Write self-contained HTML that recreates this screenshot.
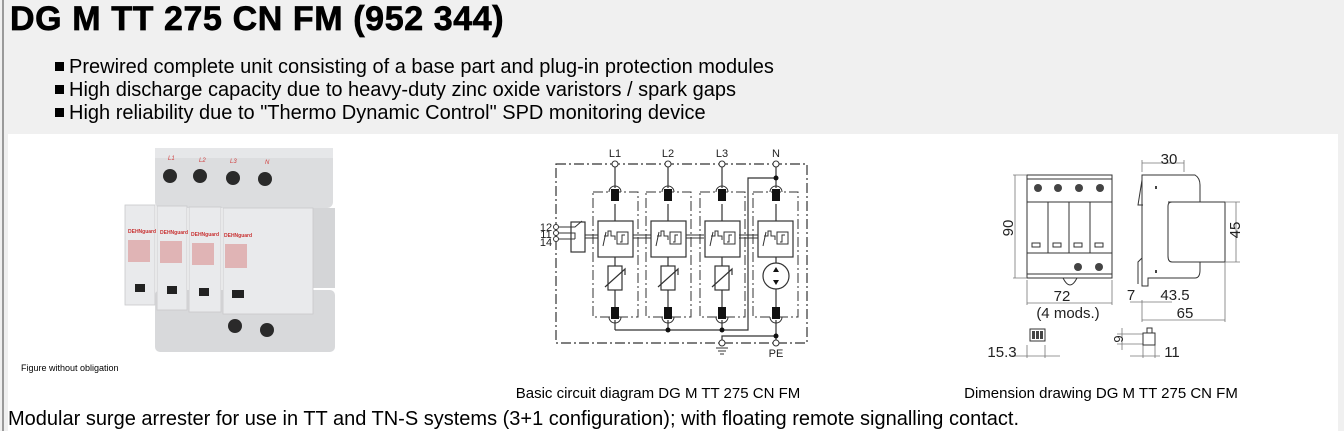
<!DOCTYPE html>
<html><head><meta charset="utf-8"><style>
body{margin:0;width:1344px;height:431px;background:#f0f0f0;position:relative;overflow:hidden;font-family:"Liberation Sans",Arial,sans-serif;}
.abs{position:absolute;white-space:nowrap;}
#lb{position:absolute;left:2px;top:0;width:2px;height:431px;background:#9a9a9a;}
#panel{position:absolute;left:8px;top:134px;width:1330px;height:297px;background:#fff;}
h1{position:absolute;left:10px;top:0px;margin:0;font-size:34px;font-weight:bold;letter-spacing:0.6px;-webkit-text-stroke:0.7px #000;}
.b{font-size:20px;color:#000;left:55px;}
.b:before{content:"";display:inline-block;width:9px;height:9px;background:#000;margin-right:5px;vertical-align:2px;}
</style></head><body>
<div id="lb"></div>
<div id="panel"></div>
<h1>DG M TT 275 CN FM (952 344)</h1>
<div class="abs b" style="top:56px">Prewired complete unit consisting of a base part and plug-in protection modules</div>
<div class="abs b" style="top:79px">High discharge capacity due to heavy-duty zinc oxide varistors / spark gaps</div>
<div class="abs b" style="top:102px">High reliability due to "Thermo Dynamic Control" SPD monitoring device</div>

<svg class="abs" style="left:0;top:0" width="1344" height="431" font-family="Liberation Sans,Arial,sans-serif">
<!-- product photo -->
<g>
<rect x="155" y="150" width="178" height="58" rx="6" fill="#dcdddf"/>
<rect x="155" y="148" width="178" height="10" fill="#e6e7e9"/>
<g fill="#2a2a2a"><circle cx="170" cy="176" r="7"/><circle cx="200" cy="176" r="7"/><circle cx="233" cy="178" r="7"/><circle cx="265" cy="179" r="7"/></g>
<g fill="#d04040" font-size="6" font-style="italic"><text x="168" y="160">L1</text><text x="199" y="162">L2</text><text x="230" y="163">L3</text><text x="265" y="164">N</text></g>
<rect x="310" y="208" width="25" height="80" fill="#d4d5d7"/>
<rect x="155" y="290" width="180" height="62" rx="5" fill="#d8d9db"/>
<g fill="#2a2a2a"><circle cx="235" cy="326" r="7"/><circle cx="267" cy="330" r="7"/></g>
<g fill="#e9eaec" stroke="#c8c9cb" stroke-width="0.8">
<rect x="125" y="205" width="30" height="100"/><rect x="157" y="206" width="30" height="104"/><rect x="189" y="207" width="32" height="105"/><rect x="223" y="208" width="90" height="106"/>
</g>
<g fill="#c83030" font-size="5" font-weight="bold"><text x="128" y="233">DEHNguard</text><text x="160" y="234">DEHNguard</text><text x="191" y="236">DEHNguard</text><text x="224" y="237">DEHNguard</text></g>
<g fill="#d05050"><rect x="128" y="240" width="22" height="22" opacity="0.35"/><rect x="160" y="241" width="22" height="22" opacity="0.35"/><rect x="192" y="243" width="22" height="22" opacity="0.35"/><rect x="225" y="244" width="22" height="24" opacity="0.35"/></g>
<g fill="#222"><rect x="135" y="284" width="10" height="8"/><rect x="167" y="286" width="10" height="8"/><rect x="199" y="288" width="10" height="8"/><rect x="232" y="290" width="12" height="8"/></g>
<text x="21" y="371" font-size="9">Figure without obligation</text>
</g>

<!-- circuit diagram -->
<g stroke="#333" fill="none" stroke-width="1.2">
<rect x="556" y="164" width="251" height="179" stroke-dasharray="10,3,2,3"/>
<g id="m">
<rect x="593" y="192" width="45" height="125" stroke-dasharray="10,3,2,3" stroke-width="1"/>
<path d="M615 164V188M615 204V221M615 257V266M615 290V308M615 320V330"/>
<rect x="598" y="221" width="35" height="36"/>
<rect x="608" y="266" width="14" height="24"/>
<path d="M605 287L625 269L625 275"/>
<path d="M603 246L606 232M604 236H608V231H611V236H615V240" stroke-width="1"/>
<rect x="617" y="232" width="11" height="12" stroke-width="1"/>
<path d="M620 242H622V235H625" stroke-width="1"/>
<path d="M609 192A6 6 0 0 1 621 192M609 317A6 6 0 0 0 621 317" stroke-width="1"/>
</g>
<use href="#m" x="53"/><use href="#m" x="107"/>
<rect x="753" y="192" width="45" height="125" stroke-dasharray="10,3,2,3" stroke-width="1"/>
<path d="M776 164V188M776 204V221M776 257V263M776 289V308M776 320V343"/>
<path d="M770 192A6 6 0 0 1 782 192M770 317A6 6 0 0 0 782 317" stroke-width="1"/>
<rect x="758" y="221" width="35" height="36"/>
<circle cx="776" cy="276" r="13"/>
<path d="M763 246L766 232M764 236H768V231H771V236H775V240" stroke-width="1"/>
<rect x="777" y="232" width="11" height="12" stroke-width="1"/>
<path d="M780 242H782V235H785" stroke-width="1"/>
<path d="M615 330H748V178H776M776 336H722V343"/>
<path d="M585 235H598M633 235H651M686 235H704M739 235H758M585 238H598M633 238H651M686 238H704M739 238H758" stroke-width="1"/>
<rect x="571" y="222" width="14" height="30"/>
<path d="M556 227H575L582 221M556 233H575V239M556 239H575" stroke-width="1"/>
<path d="M716 348H728M718 351H726M720 354H724" stroke-width="1"/>
</g>
<g fill="#111"><rect x="611" y="189" width="8" height="12"/><rect x="664" y="189" width="8" height="12"/><rect x="718" y="189" width="8" height="12"/><rect x="772" y="189" width="8" height="12"/>
<rect x="611" y="307" width="8" height="12"/><rect x="664" y="307" width="8" height="12"/><rect x="718" y="307" width="8" height="12"/><rect x="772" y="307" width="8" height="12"/>
<circle cx="668" cy="330" r="2.5"/><circle cx="722" cy="330" r="2.5"/><circle cx="776" cy="178" r="2.5"/><circle cx="776" cy="336" r="2.5"/>
<path d="M773 272l3 -5 3 5zM773 280l3 5 3 -5z"/></g>
<g fill="#fff" stroke="#333" stroke-width="1"><circle cx="615" cy="164" r="3"/><circle cx="668" cy="164" r="3"/><circle cx="722" cy="164" r="3"/><circle cx="776" cy="164" r="3"/><circle cx="722" cy="343" r="3"/><circle cx="776" cy="343" r="3"/><circle cx="556" cy="227" r="2.5"/><circle cx="556" cy="233" r="2.5"/><circle cx="556" cy="239" r="2.5"/></g>
<g font-size="11" fill="#222" text-anchor="middle"><text x="615" y="157">L1</text><text x="668" y="157">L2</text><text x="722" y="157">L3</text><text x="776" y="157">N</text><text x="776" y="357">PE</text>
<text x="546" y="231">12</text><text x="546" y="238">11</text><text x="546" y="246">14</text></g>

<!-- dimension drawing -->
<g stroke="#333" fill="none" stroke-width="1">
<rect x="1027" y="175" width="85" height="103"/>
<path d="M1027 179H1112M1027 202H1112M1027 253H1112M1027 274H1112"/>
<path d="M1048 202V253M1069 202V253M1090 202V253"/>
<g fill="#fff"><rect x="1032" y="243" width="8" height="4"/><rect x="1053" y="243" width="8" height="4"/><rect x="1074" y="243" width="8" height="4"/><rect x="1095" y="243" width="8" height="4"/></g>
<path d="M1063 278Q1070 292 1077 278"/>
<path d="M1142 175H1195Q1200 178 1200 185V270Q1200 278 1195 278H1148V286H1142Z"/>
<path d="M1142 180L1138 205H1143M1142 258L1138 262V284"/>
<path d="M1168 202H1225V262H1172Q1168 262 1168 256V206Q1168 202 1172 202Z" fill="#fff"/>
<g stroke="#777" stroke-width="0.8">
<path d="M1015 175V278M1013 175H1027M1013 278H1027M1027 280V305M1112 280V305M1027 303H1112"/>
<path d="M1142 160V172M1184 160V172M1142 163H1184M1225 202H1240M1225 262H1240M1236 202V262"/>
<path d="M1142 300V322M1172 302H1142M1225 262V322M1142 320H1225M1130 302H1142"/>
<path d="M1027 345V358M1045 345V358M1010 356H1060M1143 345V358M1155 345V358M1160 356H1130M1117 334H1143M1117 344H1143M1122 328V350"/>
</g>
<rect x="1143" y="333" width="12" height="12"/><rect x="1147" y="328" width="5" height="5"/>
<rect x="1030" y="329" width="15" height="12"/>
</g>
<g fill="#444"><circle cx="1038" cy="188" r="4"/><circle cx="1058" cy="188" r="4"/><circle cx="1079" cy="188" r="4"/><circle cx="1100" cy="188" r="4"/><circle cx="1078" cy="267" r="4"/><circle cx="1099" cy="267" r="4"/><rect x="1032" y="331" width="3" height="8"/><rect x="1036" y="331" width="3" height="8"/><rect x="1040" y="331" width="3" height="8"/>
<rect x="1155" y="186" width="2" height="3"/><rect x="1155" y="270" width="2" height="3"/></g>
<g font-size="15" fill="#222" text-anchor="middle">
<text x="1062" y="301">72</text><text x="1068" y="318">(4 mods.)</text><text x="1169" y="164">30</text>
<text x="1131" y="300">7</text><text x="1175" y="300">43.5</text><text x="1185" y="318">65</text>
<text x="1002" y="357">15.3</text><text x="1172" y="357">11</text>
<text transform="translate(1013 228) rotate(-90)">90</text><text transform="translate(1240 230) rotate(-90)">45</text><text transform="translate(1123 339) rotate(-90)" font-size="13">9</text>
</g>
<g font-size="15" fill="#000" text-anchor="middle"><text x="658" y="398">Basic circuit diagram DG M TT 275 CN FM</text><text x="1101" y="398">Dimension drawing DG M TT 275 CN FM</text></g>
<text x="8" y="425" font-size="20" fill="#000">Modular surge arrester for use in TT and TN-S systems (3+1 configuration); with floating remote signalling contact.</text>
</svg>
</body></html>
